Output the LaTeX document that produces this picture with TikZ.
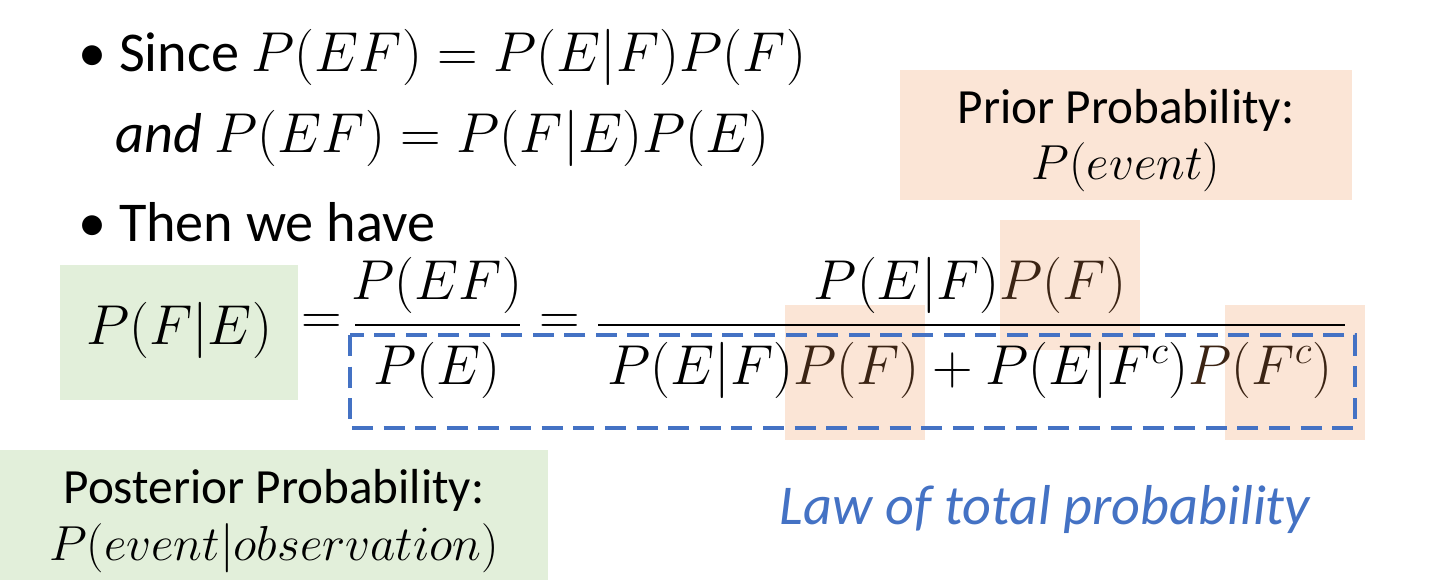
\RequirePackage{fix-cm}
\documentclass[tikz,border=0pt]{standalone}
\usepackage{amsmath}
\usepackage{fontspec}
\setmainfont{Carlito}
\usetikzlibrary{positioning}
\definecolor{postgreen}{HTML}{E2EFDA}
\definecolor{priororange}{HTML}{FBE5D6}
\definecolor{lawblue}{HTML}{4472C4}
\definecolor{overbrown}{HTML}{3B2414}
\tikzset{
  txt/.style={inner sep=0pt, font=\fontsize{32}{38}\selectfont},
  lbl/.style={inner sep=0pt, font=\fontsize{28}{34}\selectfont},
  hilite/.style={fill=priororange, draw=none}
}
\newcommand{\hl}[1]{\textcolor{overbrown}{#1}}
\begin{document}
\begin{tikzpicture}[x=0.02cm, y=-0.02cm]
        \useasboundingbox (0,0) rectangle (1440,580);

        % shaded boxes
        \fill[postgreen] (60,265) rectangle (298,400);
        \fill[postgreen] (0,450) rectangle (548,580);
        \fill[priororange] (900,70) rectangle (1352,200);
        \fill[hilite] (1000,220) rectangle (1140,350);
        \fill[hilite] (785,305) rectangle (925,440);
        \fill[hilite] (1225,305) rectangle (1365,440);

        % bullets
        \node[txt, anchor=west] (since) at (78,57) {\textbullet\ Since $P(EF)=P(E|F)P(F)$};
        \node[txt, anchor=west] (andline) at (115,138) {\textit{and} $P(EF)=P(F|E)P(E)$};
        \node[txt, anchor=west] (then) at (78,222) {\textbullet\ Then we have};

        % Bayes formula
        \node[txt] (lhs) at (179,330) {$P(F|E)$};
        \node[txt] (eqa) at (322,325) {$=$};
        \node[txt] (numa) at (437,285) {$P(EF)$};
        \node[txt] (dena) at (437,370) {$P(E)$};
        \draw[line width=1.6pt] (355,325) -- (520,325);
        \node[txt] (eqb) at (560,325) {$=$};
        \node[txt] (numb) at (970,285) {$P(E|F)\hl{P(F)}$};
        \node[txt] (denb) at (970,370) {$P(E|F)\hl{P(F)}+P(E|F^c)\hl{P(F^c)}$};
        \draw[line width=1.6pt] (598,325) -- (1345,325);

        % total probability part
        \draw[lawblue, line width=2.2pt, dash pattern=on 12pt off 6pt] (350,335) rectangle (1355,428);

        % labels
        \node[lbl] (prior) at (1126,110) {Prior Probability:};
        \node[lbl] (priorp) at (1126,167) {$P(event)$};
        \node[lbl] (post) at (274,490) {Posterior Probability:};
        \node[lbl] (postp) at (274,548) {$P(event|observation)$};
        \node[lbl, text=lawblue, font=\fontsize{32}{38}\itshape] (law) at (1045,510) {Law of total probability};
\end{tikzpicture}
\end{document}
